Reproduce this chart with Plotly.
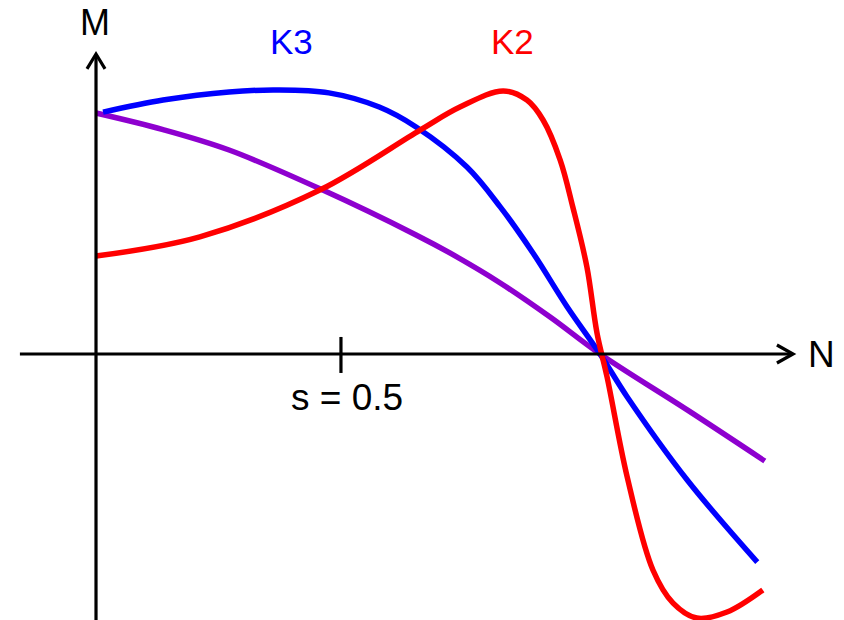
import plotly.graph_objects as go

# Speed N (0 = standstill, 1 = synchronous speed) and torque M (relative units)
purple_n = [0.0, 0.133, 0.264, 0.450, 0.635, 0.702, 0.802, 0.901, 1.0, 1.173, 1.327]
purple_m = [1.004, 0.935, 0.850, 0.683, 0.496, 0.421, 0.296, 0.154, 0.0, -0.233, -0.446]

k3_n = [0.014, 0.133, 0.264, 0.357, 0.462, 0.562, 0.635, 0.736, 0.802, 0.867, 0.935, 1.0,
        1.054, 1.173, 1.312]
k3_m = [1.008, 1.058, 1.092, 1.100, 1.088, 1.029, 0.946, 0.779, 0.613, 0.421, 0.196, 0.0,
        -0.179, -0.525, -0.867]

k2_n = [0.0, 0.206, 0.444, 0.643, 0.722, 0.808, 0.855, 0.887, 0.921, 0.946, 0.974, 0.994,
        1.014, 1.054, 1.105, 1.145, 1.192, 1.252, 1.323]
k2_m = [0.408, 0.488, 0.683, 0.933, 1.029, 1.096, 1.058, 0.975, 0.808, 0.6125, 0.3625, 0.0875,
        -0.096, -0.513, -0.900, -1.038, -1.100, -1.075, -0.983]

tick_n = 0.486
tick_label = "s = 0.5"

X_RANGE = [-0.1905, 1.4841]
Y_RANGE = [-1.1083, 1.475]

fig = go.Figure()
fig.add_trace(go.Scatter(x=purple_n, y=purple_m, mode="lines",
                         line=dict(color="#8E00CF", width=5.5, shape="spline", smoothing=1.0),
                         hoverinfo="skip"))
fig.add_trace(go.Scatter(x=k3_n, y=k3_m, mode="lines",
                         line=dict(color="#0000FF", width=5.5, shape="spline", smoothing=1.0),
                         hoverinfo="skip"))
fig.add_trace(go.Scatter(x=k2_n, y=k2_m, mode="lines",
                         line=dict(color="#FF0000", width=5.5, shape="spline", smoothing=1.0),
                         hoverinfo="skip"))

ax = dict(color="black", width=3.2)
shapes = [
    # x axis and arrowhead
    dict(type="line", xref="x", yref="y", x0=-0.151, x1=1.382, y0=0, y1=0, line=ax),
    dict(type="path", xref="x", yref="y",
         path="M 1.351 0.0375 L 1.383 0 L 1.351 -0.0375", line=ax),
    # y axis and arrowhead
    dict(type="line", xref="x", yref="y", x0=0, x1=0, y0=-1.12, y1=1.247, line=ax),
    dict(type="path", xref="x", yref="y",
         path="M -0.0179 1.188 L 0 1.25 L 0.0179 1.188", line=ax),
    # tick
    dict(type="line", xref="x", yref="y", x0=tick_n, x1=tick_n, y0=-0.079, y1=0.071, line=ax),
]

font = "Liberation Sans, Arial, sans-serif"
annotations = [
    dict(x=-0.002, y=1.38, text="M", showarrow=False, xref="x", yref="y",
         font=dict(family=font, size=36, color="black")),
    dict(x=1.44, y=0.0, text="N", showarrow=False, xref="x", yref="y",
         font=dict(family=font, size=37, color="black")),
    dict(x=(291 - 96) / 504, y=(354 - 41) / 240, text="K3", showarrow=False, xref="x", yref="y",
         font=dict(family=font, size=35, color="#0000FF")),
    dict(x=(512 - 96) / 504, y=(354 - 41) / 240, text="K2", showarrow=False, xref="x", yref="y",
         font=dict(family=font, size=35, color="#FF0000")),
    dict(x=tick_n + 0.012, y=-0.18, text=tick_label, showarrow=False, xref="x", yref="y",
         font=dict(family=font, size=37, color="black")),
]

fig.update_layout(
    width=844, height=620,
    margin=dict(l=0, r=0, t=0, b=0),
    paper_bgcolor="white", plot_bgcolor="white",
    showlegend=False,
    xaxis=dict(range=X_RANGE, visible=False, fixedrange=True),
    yaxis=dict(range=Y_RANGE, visible=False, fixedrange=True),
    shapes=shapes, annotations=annotations,
)

fig.write_html("out.html", config={"displayModeBar": False},
               post_script="document.body.style.margin='0';document.body.style.overflow='hidden';")
